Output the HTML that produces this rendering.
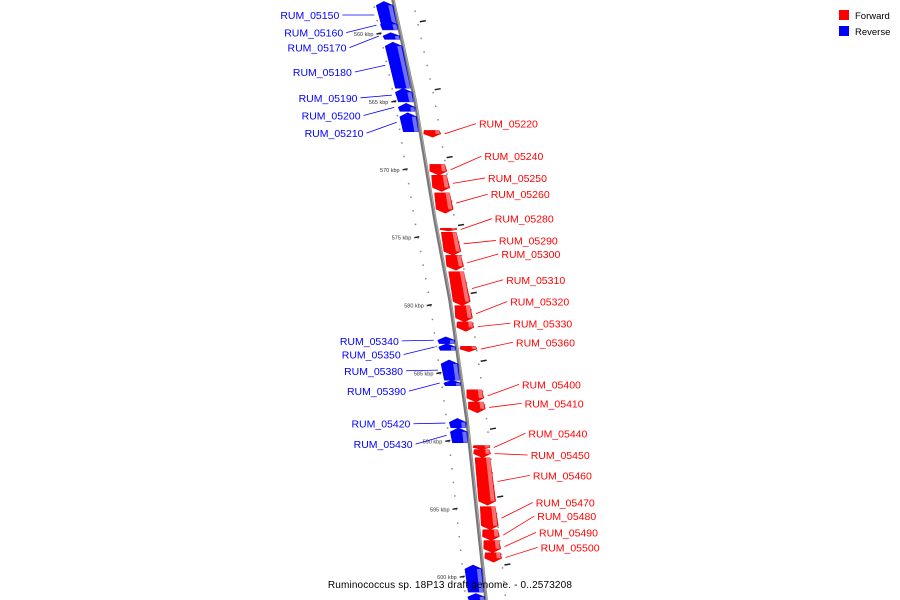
<!DOCTYPE html>
<html><head><meta charset="utf-8"><style>
html,body{margin:0;padding:0;background:#fff;width:900px;height:600px;overflow:hidden}
svg{display:block}
text{font-family:"Liberation Sans",sans-serif}
</style></head><body>
<svg id="chart" width="900" height="600" viewBox="0 0 900 600">
<g id="legend">
<rect x="839" y="10" width="10" height="10" fill="#f00"/>
<text x="855" y="19" font-size="9.5">Forward</text>
<rect x="839" y="26" width="10" height="10" fill="#00f"/>
<text x="855" y="35" font-size="9.5">Reverse</text>
</g>
</svg>
<script>
const geneNames=["RUM_05150","RUM_05160","RUM_05170","RUM_05180","RUM_05190","RUM_05200","RUM_05210","RUM_05220","RUM_05240","RUM_05250","RUM_05260","RUM_05280","RUM_05290","RUM_05300","RUM_05310","RUM_05320","RUM_05330","RUM_05360","RUM_05340","RUM_05350","RUM_05380","RUM_05390","RUM_05420","RUM_05430","RUM_05400","RUM_05410","RUM_05440","RUM_05450","RUM_05460","RUM_05470","RUM_05480","RUM_05490","RUM_05500","",""];
const geneStart=[557.6,559.0,559.9,560.6,564.0,565.1,565.8,567.1,569.6,570.4,571.7,574.3,574.6,576.3,577.5,580.0,581.2,583.0,582.3,582.8,584.0,585.5,588.3,589.0,586.2,587.1,590.3,590.6,591.2,594.8,596.5,597.3,598.2,599.1,601.2];
const geneEnd=[559.6,559.7,560.4,564.0,565.0,565.7,567.2,567.6,570.4,571.6,573.2,574.5,576.3,577.4,580.0,581.2,581.9,583.4,582.8,583.3,585.5,585.9,589.0,590.1,587.1,587.9,590.6,591.2,594.7,596.5,597.3,598.2,598.9,601.1,601.7];
const geneStrand=["-","-","-","-","-","-","-","+","+","+","+","+","+","+","+","+","+","+","-","-","-","-","-","-","+","+","+","+","+","+","+","+","+","-","-"];
const labelKbp=[558.6,559.9,561.0,562.8,564.7,566.0,567.3,566.6,569.0,570.6,571.8,573.6,575.2,576.2,578.1,579.7,581.3,582.7,582.6,583.6,584.8,586.3,588.7,590.2,585.8,587.2,589.4,591.0,592.5,594.5,595.5,596.7,597.8,0,0];
const tickKbp=[560,565,570,575,580,585,590,595,600];
const NS="http://www.w3.org/2000/svg";
const svg=document.getElementById('chart');
const yOf=k=>34+(k-560)*13.58;
const BY=[-20,0,100,220,300,420,570,620],BX=[389,393,415,435,450,467,483,488];
function bx(y){for(let i=0;i<BY.length-1;i++){if(y<=BY[i+1]||i===BY.length-2){const t=(y-BY[i])/(BY[i+1]-BY[i]);return BX[i]+t*(BX[i+1]-BX[i]);}}}
function el(t,a){const e=document.createElementNS(NS,t);for(const k in a)e.setAttribute(k,a[k]);svg.appendChild(e);return e;}
const bbPts=BY.map((y,i)=>BX[i]+','+y).join(' ');
const bb=el('polyline',{points:bbPts,fill:'none',stroke:'#777','stroke-width':3.5});


const bb2=el('polyline',{points:BY.map((y,i)=>(BX[i]+0.8)+','+y).join(' '),fill:'none',stroke:'#aaa','stroke-width':1});


for(let k=557;k<=602;k++){
 const y=yOf(k);
 const d1=el('rect',{x:bx(y)-21,y:y-0.5,width:1.5,height:1.5,fill:'#888'});
 
 
 const y2=yOf(k+0.3);
 const d2=el('rect',{x:bx(y2)+19,y:y2-0.5,width:1.5,height:1.5,fill:'#888'});
 
 
}
tickKbp.forEach(k=>{
 const y=yOf(k);
 const t=el('line',{x1:bx(y)-24,y1:y,x2:bx(y)-19,y2:y-1,stroke:'#222','stroke-width':1.5});
 
 
 const yr=yOf(k-0.9);
 const t2=el('line',{x1:bx(yr)+22,y1:yr,x2:bx(yr)+28,y2:yr-1,stroke:'#222','stroke-width':1.5});
 
 
 const lb=el('text',{x:bx(y)-27,y:y+2,'font-size':5.5,'text-anchor':'end',fill:'#333'});
 lb.textContent=k+' kbp';
 
 
});
geneNames.forEach((n,i)=>{
 const y1=yOf(geneStart[i]),y2=yOf(geneEnd[i]);
 const fwd=geneStrand[i]==='+';
 const off=fwd?4:-17,w=15;
 const L=y=>bx(y)+off;
 const h=Math.min(4,(y2-y1)/2);
 let pts;
 if(fwd){
  pts=[[L(y1),y1],[L(y1)+w,y1],[L(y2-h)+w+1,y2-h],[L(y2)+w/2,y2],[L(y2-h)-1,y2-h]];
 }else{
  pts=[[L(y1+h)-1,y1+h],[L(y1)+w/2,y1],[L(y1+h)+w+1,y1+h],[L(y2)+w,y2],[L(y2),y2]];
 }
 const g=el('polygon',{points:pts.map(p=>p.join(',')).join(' '),fill:fwd?'#f00':'#00f',stroke:fwd?'#d00':'#00d','stroke-width':0.5});
 
 
 const a=fwd?y1:y1+h,b=fwd?y2-h:y2;
 const sh=el('polygon',{points:[[L(a)+w-4,a],[L(a)+w,a],[L(b)+w,b],[L(b)+w-4,b]].map(p=>p.join(',')).join(' '),fill:fwd?'#ff7070':'#7070ff'});
 
 
 if(!n)return;
 const ym=(y1+y2)/2, ly=yOf(labelKbp[i]);
 let lx,gx,anchor;
 if(fwd){gx=bx(ym)+off+w+5;lx=bx(ly)+60;anchor='start';}
 else{gx=bx(ym)+off-5;lx=bx(ly)-57;anchor='end';}
 const ln=el('line',{x1:gx,y1:ym,x2:fwd?lx-3:lx+3,y2:ly,stroke:fwd?'#f00':'#00f','stroke-width':0.8});
 
 
 const tx=el('text',{x:lx,y:ly+4,'font-size':10.5,'text-anchor':anchor,fill:fwd?'#f00':'#00f'});
 tx.textContent=n;
 
 
});
const title=el('text',{x:450,y:588,'font-size':10,'text-anchor':'middle','letter-spacing':0.15,fill:'#000'});
title.textContent='Ruminococcus sp. 18P13 draft genome. - 0..2573208';


</script>
</body></html>
